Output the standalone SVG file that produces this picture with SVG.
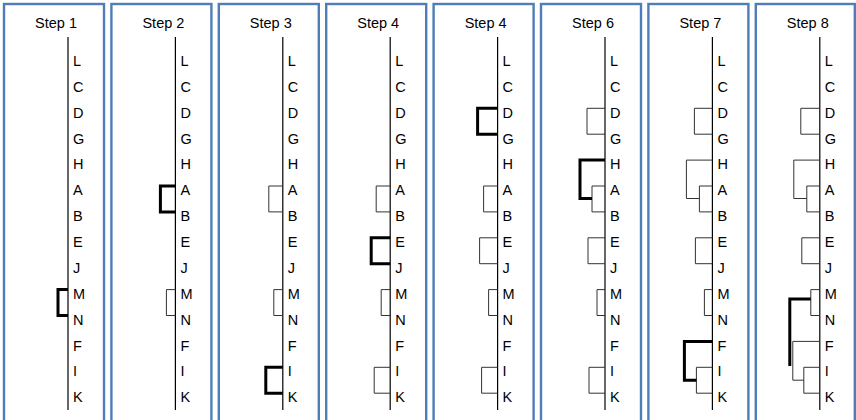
<svg xmlns="http://www.w3.org/2000/svg" width="856" height="420" viewBox="0 0 856 420">
<style>
.frame{fill:#fff;stroke:#4f7db8;stroke-width:2.4}
.title{font-family:"Liberation Sans",Arial,sans-serif;font-size:14.5px;fill:#000;text-anchor:middle}
.lab{font-family:"Liberation Sans",Arial,sans-serif;font-size:14.5px;fill:#000}
.axis{stroke:#000;stroke-width:1.2;fill:none}
.br{stroke:#333;stroke-width:1;fill:none}
.bk{stroke:#000;stroke-width:3;fill:none}
</style>
<defs>
<g id="labels">
<text class="lab" x="69" y="66">L</text>
<text class="lab" x="69" y="92">C</text>
<text class="lab" x="69" y="118">D</text>
<text class="lab" x="69" y="144">G</text>
<text class="lab" x="69" y="169">H</text>
<text class="lab" x="69" y="195">A</text>
<text class="lab" x="69" y="221">B</text>
<text class="lab" x="69" y="247">E</text>
<text class="lab" x="69" y="273">J</text>
<text class="lab" x="69" y="299">M</text>
<text class="lab" x="69" y="325">N</text>
<text class="lab" x="69" y="351">F</text>
<text class="lab" x="69" y="376">I</text>
<text class="lab" x="69" y="402">K</text>
</g>
</defs>

<g id="step1" transform="translate(4,0)">
<rect class="frame" x="0" y="4" width="100" height="430"/>
<text class="title" x="52" y="28">Step 1</text>
<line class="axis" x1="64" y1="37" x2="64" y2="410"/>
<use href="#labels"/>
</g>
<g id="step2" transform="translate(111.4,0)">
<rect class="frame" x="0" y="4" width="100" height="430"/>
<text class="title" x="52" y="28">Step 2</text>
<line class="axis" x1="64" y1="37" x2="64" y2="410"/>
<use href="#labels"/>
</g>
<g id="step3" transform="translate(218.8,0)">
<rect class="frame" x="0" y="4" width="100" height="430"/>
<text class="title" x="52" y="28">Step 3</text>
<line class="axis" x1="64" y1="37" x2="64" y2="410"/>
<use href="#labels"/>
</g>
<g id="step4a" transform="translate(326.2,0)">
<rect class="frame" x="0" y="4" width="100" height="430"/>
<text class="title" x="52" y="28">Step 4</text>
<line class="axis" x1="64" y1="37" x2="64" y2="410"/>
<use href="#labels"/>
</g>
<g id="step4b" transform="translate(433.6,0)">
<rect class="frame" x="0" y="4" width="100" height="430"/>
<text class="title" x="52" y="28">Step 4</text>
<line class="axis" x1="64" y1="37" x2="64" y2="410"/>
<use href="#labels"/>
</g>
<g id="step6" transform="translate(541,0)">
<rect class="frame" x="0" y="4" width="100" height="430"/>
<text class="title" x="52" y="28">Step 6</text>
<line class="axis" x1="64" y1="37" x2="64" y2="410"/>
<use href="#labels"/>
</g>
<g id="step7" transform="translate(648.4,0)">
<rect class="frame" x="0" y="4" width="100" height="430"/>
<text class="title" x="52" y="28">Step 7</text>
<line class="axis" x1="64" y1="37" x2="64" y2="410"/>
<use href="#labels"/>
</g>
<g id="step8" transform="translate(755.8,0)">
<rect class="frame" x="0" y="4" width="99" height="430"/>
<text class="title" x="52" y="28">Step 8</text>
<line class="axis" x1="64" y1="37" x2="64" y2="410"/>
<use href="#labels"/>
</g>

<g id="connectors">
<g transform="translate(4,0)">
<path class="bk" d="M64,289.6 H54 V315.5 H64"/>
</g>
<g transform="translate(111.4,0)">
<path class="bk" d="M64,186 H49 V211.9 H64"/>
<path class="br" d="M64,289.6 H55 V315.5 H64"/>
</g>
<g transform="translate(218.8,0)">
<path class="br" d="M64,186 H50 V211.9 H64"/>
<path class="br" d="M64,289.6 H55 V315.5 H64"/>
<path class="bk" d="M64,367.3 H47 V393.2 H64"/>
</g>
<g transform="translate(326.2,0)">
<path class="br" d="M64,186 H50 V211.9 H64"/>
<path class="bk" d="M64,237.8 H45 V263.7 H64"/>
<path class="br" d="M64,289.6 H55 V315.5 H64"/>
<path class="br" d="M64,367.3 H48 V393.2 H64"/>
</g>
<g transform="translate(433.6,0)">
<path class="bk" d="M64,108.3 H44 V134.2 H64"/>
<path class="br" d="M64,186 H50 V211.9 H64"/>
<path class="br" d="M64,237.8 H46 V263.7 H64"/>
<path class="br" d="M64,289.6 H55 V315.5 H64"/>
<path class="br" d="M64,367.3 H48 V393.2 H64"/>
</g>
<g transform="translate(541,0)">
<path class="br" d="M64,108.3 H46 V134.2 H64"/>
<path class="br" d="M64,186 H51 V211.9 H64"/>
<path class="bk" d="M64,160.1 H39 V198.5 H51"/>
<path class="br" d="M64,237.8 H47 V263.7 H64"/>
<path class="br" d="M64,289.6 H56 V315.5 H64"/>
<path class="br" d="M64,367.3 H48 V393.2 H64"/>
</g>
<g transform="translate(648.4,0)">
<path class="br" d="M64,108.3 H46 V134.2 H64"/>
<path class="br" d="M64,186 H51 V211.9 H64"/>
<path class="br" d="M64,160.1 H38 V198.5 H51"/>
<path class="br" d="M64,237.8 H47 V263.7 H64"/>
<path class="br" d="M64,289.6 H56 V315.5 H64"/>
<path class="br" d="M64,367.3 H48 V393.2 H64"/>
<path class="bk" d="M64,341.4 H36 V380.2 H48"/>
</g>
<g transform="translate(755.8,0)">
<path class="br" d="M64,108.3 H45 V134.2 H64"/>
<path class="br" d="M64,186 H51 V211.9 H64"/>
<path class="br" d="M64,160.1 H38 V198.5 H51"/>
<path class="br" d="M64,237.8 H46 V263.7 H64"/>
<path class="br" d="M64,289.6 H55 V315.5 H64"/>
<path class="br" d="M64,367.3 H48 V393.2 H64"/>
<path class="br" d="M64,341.4 H37 V380.2 H48"/>
<path class="bk" d="M55,299 H34 V366"/>
</g>
</g>
</svg>
